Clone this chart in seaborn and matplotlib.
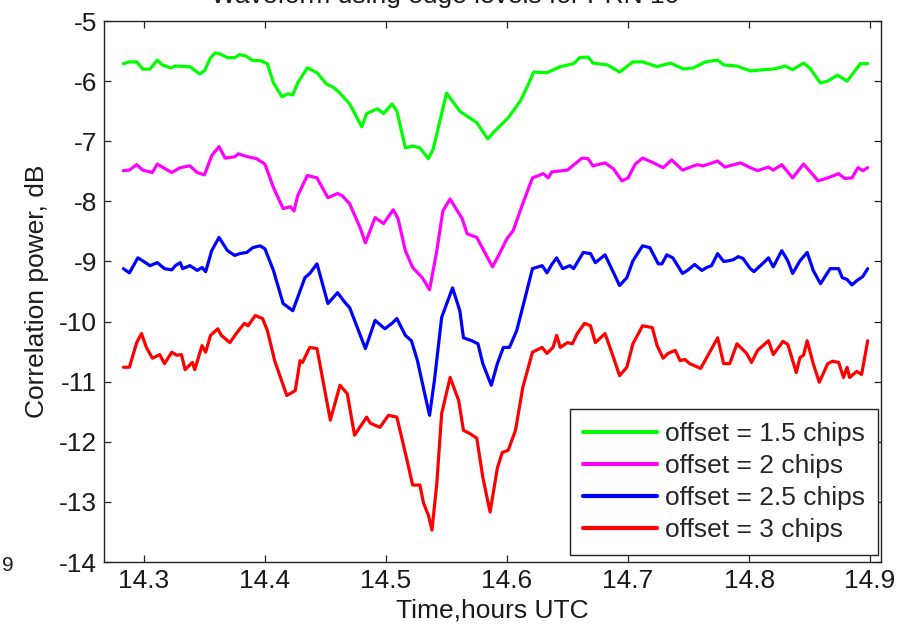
import numpy as np
import pandas as pd
import matplotlib
matplotlib.use("Agg")
import matplotlib.pyplot as plt
import seaborn as sns

# --- data: correlation power (dB) versus time (hours UTC) ---
t_15 = [14.283, 14.288, 14.294, 14.299, 14.305, 14.311, 14.315, 14.322, 14.326, 14.338,
        14.346, 14.350, 14.355, 14.359, 14.363, 14.369, 14.375, 14.379, 14.384, 14.390,
        14.396, 14.402, 14.407, 14.414, 14.419, 14.423, 14.427, 14.435, 14.443, 14.451,
        14.456, 14.460, 14.470, 14.480, 14.484, 14.493, 14.498, 14.505, 14.509, 14.516,
        14.522, 14.528, 14.535, 14.539, 14.550, 14.561, 14.569, 14.575, 14.584, 14.590,
        14.601, 14.611, 14.617, 14.622, 14.633, 14.644, 14.655, 14.660, 14.667, 14.671,
        14.683, 14.693, 14.704, 14.712, 14.724, 14.735, 14.746, 14.754, 14.764, 14.774,
        14.779, 14.790, 14.801, 14.812, 14.820, 14.830, 14.836, 14.845, 14.850, 14.859,
        14.865, 14.873, 14.881, 14.892, 14.898]
p_15 = [-5.71, -5.68, -5.68, -5.80, -5.80, -5.65, -5.73, -5.78, -5.75, -5.76,
        -5.88, -5.83, -5.61, -5.53, -5.55, -5.61, -5.61, -5.56, -5.58, -5.66,
        -5.66, -5.71, -6.03, -6.26, -6.21, -6.23, -6.03, -5.78, -5.86, -6.05,
        -6.10, -6.16, -6.38, -6.76, -6.54, -6.46, -6.54, -6.38, -6.50, -7.11,
        -7.08, -7.11, -7.29, -7.13, -6.20, -6.50, -6.61, -6.69, -6.96, -6.83,
        -6.61, -6.33, -6.08, -5.85, -5.86, -5.76, -5.71, -5.61, -5.60, -5.70,
        -5.73, -5.85, -5.68, -5.68, -5.76, -5.70, -5.80, -5.78, -5.68, -5.65,
        -5.73, -5.75, -5.83, -5.81, -5.80, -5.75, -5.81, -5.70, -5.78, -6.03,
        -6.00, -5.90, -6.00, -5.71, -5.71]

t_20 = [14.283, 14.288, 14.294, 14.299, 14.307, 14.311, 14.316, 14.323, 14.330, 14.338,
        14.344, 14.350, 14.356, 14.362, 14.367, 14.375, 14.378, 14.386, 14.393, 14.400,
        14.407, 14.415, 14.421, 14.424, 14.427, 14.435, 14.443, 14.452, 14.460, 14.464,
        14.470, 14.479, 14.483, 14.491, 14.498, 14.506, 14.510, 14.516, 14.522, 14.530,
        14.536, 14.542, 14.547, 14.553, 14.559, 14.563, 14.567, 14.575, 14.580, 14.588,
        14.592, 14.600, 14.605, 14.613, 14.621, 14.630, 14.634, 14.637, 14.650, 14.656,
        14.662, 14.667, 14.671, 14.681, 14.688, 14.695, 14.700, 14.706, 14.712, 14.721,
        14.729, 14.736, 14.745, 14.757, 14.762, 14.774, 14.780, 14.793, 14.801, 14.807,
        14.816, 14.820, 14.827, 14.836, 14.845, 14.855, 14.857, 14.865, 14.874, 14.879,
        14.885, 14.890, 14.894, 14.898]
p_20 = [-7.49, -7.48, -7.39, -7.48, -7.52, -7.38, -7.44, -7.52, -7.44, -7.41,
        -7.52, -7.56, -7.24, -7.09, -7.28, -7.26, -7.21, -7.26, -7.29, -7.38,
        -7.77, -8.12, -8.09, -8.16, -7.91, -7.57, -7.61, -7.94, -7.87, -7.91,
        -8.04, -8.46, -8.69, -8.27, -8.37, -8.14, -8.29, -8.82, -9.10, -9.27,
        -9.47, -8.82, -8.16, -7.96, -8.16, -8.29, -8.54, -8.60, -8.79, -9.09,
        -8.94, -8.62, -8.49, -8.04, -7.61, -7.54, -7.61, -7.51, -7.48, -7.38,
        -7.28, -7.29, -7.41, -7.36, -7.46, -7.66, -7.61, -7.38, -7.28, -7.36,
        -7.44, -7.31, -7.48, -7.39, -7.41, -7.33, -7.43, -7.36, -7.44, -7.49,
        -7.43, -7.48, -7.39, -7.61, -7.38, -7.61, -7.66, -7.61, -7.54, -7.62,
        -7.61, -7.44, -7.49, -7.44]

t_25 = [14.283, 14.288, 14.295, 14.299, 14.305, 14.311, 14.317, 14.323, 14.326, 14.330,
        14.332, 14.338, 14.344, 14.348, 14.351, 14.356, 14.362, 14.369, 14.375, 14.379,
        14.385, 14.390, 14.396, 14.400, 14.407, 14.415, 14.423, 14.429, 14.433, 14.437,
        14.443, 14.452, 14.460, 14.466, 14.470, 14.483, 14.491, 14.499, 14.505, 14.509,
        14.516, 14.521, 14.526, 14.531, 14.536, 14.540, 14.546, 14.555, 14.561, 14.564,
        14.571, 14.576, 14.580, 14.587, 14.592, 14.597, 14.602, 14.608, 14.615, 14.621,
        14.629, 14.633, 14.637, 14.641, 14.646, 14.652, 14.655, 14.663, 14.669, 14.673,
        14.681, 14.693, 14.699, 14.704, 14.712, 14.718, 14.725, 14.728, 14.732, 14.737,
        14.745, 14.749, 14.755, 14.761, 14.765, 14.769, 14.774, 14.779, 14.783, 14.787,
        14.791, 14.795, 14.801, 14.804, 14.812, 14.816, 14.820, 14.827, 14.832, 14.836,
        14.842, 14.848, 14.853, 14.859, 14.867, 14.874, 14.877, 14.881, 14.885, 14.889,
        14.894, 14.898]
p_25 = [-9.12, -9.19, -8.94, -8.99, -9.07, -9.02, -9.12, -9.14, -9.07, -9.02,
        -9.12, -9.07, -9.15, -9.10, -9.17, -8.82, -8.60, -8.82, -8.90, -8.87,
        -8.85, -8.77, -8.74, -8.79, -9.15, -9.70, -9.82, -9.49, -9.27, -9.20,
        -9.04, -9.70, -9.52, -9.68, -9.77, -10.45, -9.98, -10.12, -10.03, -9.95,
        -10.23, -10.32, -10.65, -11.11, -11.56, -10.98, -9.93, -9.44, -9.82, -10.27,
        -10.32, -10.37, -10.70, -11.06, -10.70, -10.43, -10.43, -10.15, -9.60, -9.12,
        -9.07, -9.19, -9.05, -8.94, -9.12, -9.07, -9.12, -8.85, -8.87, -9.02,
        -8.89, -9.40, -9.27, -8.99, -8.74, -8.77, -9.04, -9.04, -8.89, -8.94,
        -9.20, -9.15, -9.05, -9.15, -9.10, -9.07, -8.87, -9.00, -8.99, -8.97,
        -8.92, -8.95, -9.12, -9.17, -9.02, -8.94, -9.09, -8.82, -8.99, -9.20,
        -8.99, -8.85, -9.15, -9.37, -9.12, -9.12, -9.27, -9.30, -9.39, -9.32,
        -9.25, -9.12]

t_30 = [14.283, 14.288, 14.294, 14.298, 14.302, 14.307, 14.313, 14.317, 14.323, 14.327,
        14.331, 14.334, 14.340, 14.342, 14.348, 14.351, 14.355, 14.361, 14.364, 14.371,
        14.377, 14.383, 14.386, 14.392, 14.398, 14.402, 14.408, 14.418, 14.425, 14.429,
        14.431, 14.437, 14.443, 14.454, 14.462, 14.468, 14.474, 14.484, 14.487, 14.495,
        14.502, 14.509, 14.516, 14.518, 14.522, 14.528, 14.531, 14.535, 14.538, 14.542,
        14.546, 14.553, 14.560, 14.564, 14.569, 14.575, 14.580, 14.586, 14.592, 14.596,
        14.601, 14.607, 14.613, 14.621, 14.629, 14.633, 14.638, 14.641, 14.644, 14.650,
        14.654, 14.658, 14.664, 14.669, 14.673, 14.681, 14.688, 14.693, 14.699, 14.704,
        14.712, 14.720, 14.724, 14.729, 14.733, 14.739, 14.743, 14.747, 14.751, 14.760,
        14.765, 14.774, 14.779, 14.784, 14.790, 14.798, 14.802, 14.807, 14.816, 14.820,
        14.828, 14.832, 14.839, 14.842, 14.845, 14.848, 14.853, 14.858, 14.865, 14.869,
        14.874, 14.878, 14.881, 14.883, 14.889, 14.893, 14.898]
p_30 = [-10.76, -10.76, -10.35, -10.20, -10.43, -10.61, -10.55, -10.70, -10.51, -10.56,
        -10.55, -10.80, -10.68, -10.80, -10.40, -10.51, -10.23, -10.12, -10.23, -10.35,
        -10.18, -10.03, -10.07, -9.90, -9.95, -10.15, -10.65, -11.23, -11.15, -10.65,
        -10.68, -10.43, -10.45, -11.64, -11.06, -11.20, -11.89, -11.59, -11.69, -11.76,
        -11.56, -11.59, -12.19, -12.36, -12.72, -12.72, -13.02, -13.22, -13.47, -12.69,
        -11.53, -10.93, -11.31, -11.81, -11.86, -11.94, -12.59, -13.17, -12.44, -12.18,
        -12.14, -11.81, -11.10, -10.51, -10.43, -10.53, -10.43, -10.23, -10.43, -10.35,
        -10.37, -10.20, -10.03, -10.07, -10.35, -10.20, -10.60, -10.90, -10.76, -10.37,
        -10.07, -10.10, -10.40, -10.61, -10.53, -10.48, -10.65, -10.63, -10.70, -10.78,
        -10.60, -10.27, -10.70, -10.70, -10.37, -10.53, -10.68, -10.48, -10.32, -10.55,
        -10.33, -10.38, -10.85, -10.60, -10.56, -10.32, -10.70, -11.01, -10.70, -10.66,
        -10.68, -10.93, -10.76, -10.93, -10.83, -10.88, -10.32]

labels = ["offset = 1.5 chips", "offset = 2 chips", "offset = 2.5 chips", "offset = 3 chips"]
colors = ["#00ff00", "#ff00ff", "#0000ff", "#ff0000"]
x_ticks = [14.3, 14.4, 14.5, 14.6, 14.7, 14.8, 14.9]
y_ticks = [-14, -13, -12, -11, -10, -9, -8, -7, -6, -5]

frames = []
for t, p, lab in zip([t_15, t_20, t_25, t_30], [p_15, p_20, p_25, p_30], labels):
    frames.append(pd.DataFrame({"time": t, "power": p, "offset": lab}))
df = pd.concat(frames, ignore_index=True)

# --- styling ---
sns.set_theme(style="white")
plt.rcParams["font.family"] = ["Liberation Sans", "DejaVu Sans"]
plt.rcParams["axes.unicode_minus"] = False

FS = 19
TXT = "#1a1a1a"

fig = plt.figure(figsize=(9.11, 6.28), dpi=100)
ax = fig.add_axes([104 / 911, 1 - 562 / 628, 777 / 911, 541 / 628])

for lab, col in zip(labels, colors):
    sns.lineplot(data=df[df["offset"] == lab], x="time", y="power", ax=ax,
                 color=col, linewidth=2.3, label=lab, estimator=None, sort=False,
                 solid_joinstyle="round", solid_capstyle="round")

ax.set_xlim(14.267, 14.909)
ax.set_ylim(-14, -5)
ax.set_xticks(x_ticks)
ax.set_xticklabels([f"{v:.1f}" for v in x_ticks])
ax.set_yticks(y_ticks)
ax.set_yticklabels([f"{v:d}" for v in y_ticks])

ax.tick_params(axis="both", which="major", direction="in", length=5, width=0.9,
               color="#222222", labelsize=FS, labelcolor=TXT,
               top=True, right=True, bottom=True, left=True, pad=5)
for s in ax.spines.values():
    s.set_visible(True)
    s.set_color("#222222")
    s.set_linewidth(1.0)

ax.set_xlabel("Time,hours UTC", fontsize=FS, color=TXT, labelpad=4)
ax.set_ylabel("Correlation power, dB", fontsize=FS, color=TXT, labelpad=7)

leg = ax.legend(loc="lower right", bbox_to_anchor=(878 / 911, 1 - 555 / 628),
                bbox_transform=fig.transFigure, borderaxespad=0, fontsize=FS,
                frameon=True, fancybox=False, shadow=False, framealpha=1,
                handlelength=2.8, handletextpad=0.3, labelspacing=0.3,
                borderpad=0.5)
leg.get_frame().set_edgecolor("#222222")
leg.get_frame().set_linewidth(1.0)
for line in leg.get_lines():
    line.set_linewidth(3)

# title sits partly above the top edge of the canvas
fig.text(445 / 911, 1 - 3 / 628, "Waveform using edge levels for PRN 10",
         ha="center", va="baseline", fontsize=FS, color=TXT)
fig.text(2 / 911, 1 - 571 / 628, "9", ha="left", va="baseline", fontsize=15,
         color=TXT)

fig.savefig("out.png", dpi=100)
